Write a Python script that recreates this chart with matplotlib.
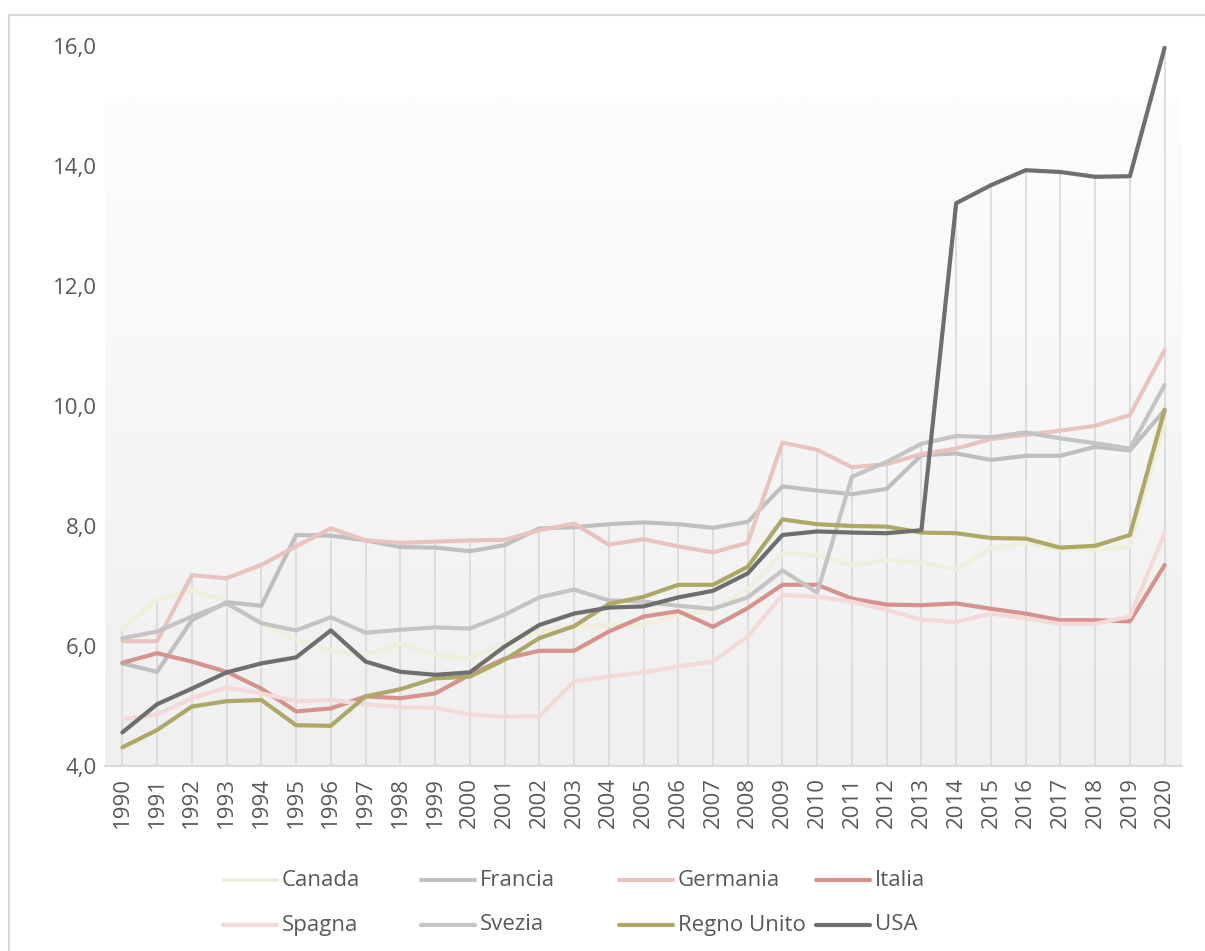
import numpy as np
import matplotlib
matplotlib.use("Agg")
import matplotlib.pyplot as plt
from matplotlib.lines import Line2D
from matplotlib.patches import Rectangle
from matplotlib.colors import LinearSegmentedColormap
from matplotlib.ticker import FuncFormatter

plt.rcParams['font.family'] = ['Open Sans', 'DejaVu Sans']

years = list(range(1990, 2021))

canada = [6.28, 6.78, 6.92, 6.74, 6.37, 6.10, 5.92, 5.85, 6.04, 5.85, 5.79, 6.04, 6.24, 6.33, 6.35, 6.35,
          6.52, 6.60, 6.95, 7.54, 7.52, 7.35, 7.43, 7.39, 7.27, 7.63, 7.71, 7.61, 7.61, 7.66, 9.74]
francia = [5.71, 5.57, 6.43, 6.73, 6.67, 7.85, 7.84, 7.76, 7.65, 7.64, 7.58, 7.68, 7.96, 7.98, 8.03, 8.06,
           8.03, 7.97, 8.07, 8.66, 8.59, 8.53, 8.62, 9.18, 9.21, 9.10, 9.17, 9.17, 9.32, 9.26, 9.93]
germania = [6.08, 6.08, 7.18, 7.13, 7.35, 7.66, 7.96, 7.76, 7.72, 7.74, 7.76, 7.77, 7.93, 8.04, 7.69, 7.78,
            7.66, 7.56, 7.72, 9.39, 9.27, 8.98, 9.03, 9.20, 9.29, 9.45, 9.52, 9.59, 9.67, 9.85, 10.93]
italia = [5.72, 5.88, 5.74, 5.57, 5.29, 4.91, 4.96, 5.16, 5.13, 5.21, 5.52, 5.79, 5.92, 5.92, 6.24, 6.49,
          6.58, 6.32, 6.63, 7.02, 7.02, 6.79, 6.69, 6.68, 6.71, 6.62, 6.54, 6.43, 6.43, 6.41, 7.35]
spagna = [4.78, 4.86, 5.13, 5.31, 5.21, 5.08, 5.10, 5.03, 4.98, 4.97, 4.86, 4.82, 4.83, 5.41, 5.49, 5.56,
          5.66, 5.74, 6.16, 6.85, 6.82, 6.74, 6.60, 6.44, 6.40, 6.54, 6.46, 6.37, 6.37, 6.49, 7.88]
svezia = [6.13, 6.24, 6.49, 6.71, 6.38, 6.26, 6.48, 6.22, 6.27, 6.31, 6.29, 6.52, 6.81, 6.94, 6.76, 6.74,
          6.67, 6.62, 6.81, 7.26, 6.89, 8.82, 9.07, 9.37, 9.50, 9.48, 9.56, 9.46, 9.38, 9.29, 10.35]
regno_unito = [4.31, 4.60, 4.99, 5.08, 5.10, 4.68, 4.67, 5.16, 5.28, 5.46, 5.49, 5.77, 6.13, 6.33, 6.70, 6.82,
               7.02, 7.02, 7.32, 8.11, 8.03, 8.00, 7.99, 7.89, 7.88, 7.80, 7.79, 7.64, 7.67, 7.85, 9.94]
usa = [4.56, 5.03, 5.29, 5.56, 5.71, 5.81, 6.26, 5.74, 5.57, 5.52, 5.56, 5.99, 6.35, 6.54, 6.64, 6.66,
       6.81, 6.92, 7.21, 7.85, 7.91, 7.89, 7.88, 7.93, 13.38, 13.68, 13.93, 13.90, 13.82, 13.83, 15.97]

names = ['Canada', 'Francia', 'Germania', 'Italia', 'Spagna', 'Svezia', 'Regno Unito', 'USA']
series = [canada, francia, germania, italia, spagna, svezia, regno_unito, usa]
colors = ['#efefdc', '#bfbfbf', '#eac3bf', '#d8928d', '#f3d9d8', '#c4c4c4', '#aea866', '#6e6e6e']

W, H = 1205, 951
fig = plt.figure(figsize=(W / 100, H / 100), dpi=100)
ax = fig.add_axes([105 / W, (H - 766) / H, 1077 / W, 720 / H])

# gradient background of the plot area
grad = LinearSegmentedColormap.from_list('bg', ['#efefef', '#fdfdfd'])
ax.imshow(np.linspace(0, 1, 256).reshape(-1, 1), cmap=grad, origin='lower',
          extent=[1989.5, 2020.5, 4, 15.15], aspect='auto', zorder=0)

# drop lines up to the highest series at each year
tops = np.max(np.array(series), axis=0)
ax.vlines(years, 4, tops, color='#d9d9d9', lw=1.2, zorder=1)

for name, vals, c in zip(names, series, colors):
    ax.plot(years, vals, color=c, lw=3, solid_capstyle='round', solid_joinstyle='round', zorder=2, label=name)

ax.set_xlim(1989.5, 2020.5)
ax.set_ylim(4, 16)
ax.set_xticks(years)
ax.set_xticklabels([str(y) for y in years], rotation=90)
ax.set_yticks(np.arange(4, 17, 2))
ax.yaxis.set_major_formatter(FuncFormatter(lambda v, p: f'{v:.1f}'.replace('.', ',')))
ax.tick_params(length=0, labelsize=16, labelcolor='#595959')
ax.tick_params(axis='x', pad=8)
ax.tick_params(axis='y', pad=6)
for s in ['top', 'right', 'left']:
    ax.spines[s].set_visible(False)
ax.spines['bottom'].set_color('#d9d9d9')
ax.spines['bottom'].set_linewidth(1.5)
ax.set_facecolor('white')

# outer chart border (left and top visible)
fig.add_artist(Rectangle((9 / W, -0.01), 1.02, 1.01 - 15 / H, transform=fig.transFigure,
                         fill=False, edgecolor='#d9d9d9', lw=1.5))

# legend, laid out like the original 4 x 2 grid
col_x = [223, 421, 619, 816]
row_y = [880, 925]
for i, (name, c) in enumerate(zip(names, colors)):
    x0 = col_x[i % 4]
    y0 = row_y[i // 4]
    fig.add_artist(Line2D([x0 / W, (x0 + 54) / W], [1 - y0 / H, 1 - y0 / H], transform=fig.transFigure,
                          color=c, lw=3, solid_capstyle='round'))
    fig.text((x0 + 59) / W, 1 - y0 / H, name, fontsize=16, color='#595959', va='center', ha='left')

fig.savefig('out.png', dpi=100)
